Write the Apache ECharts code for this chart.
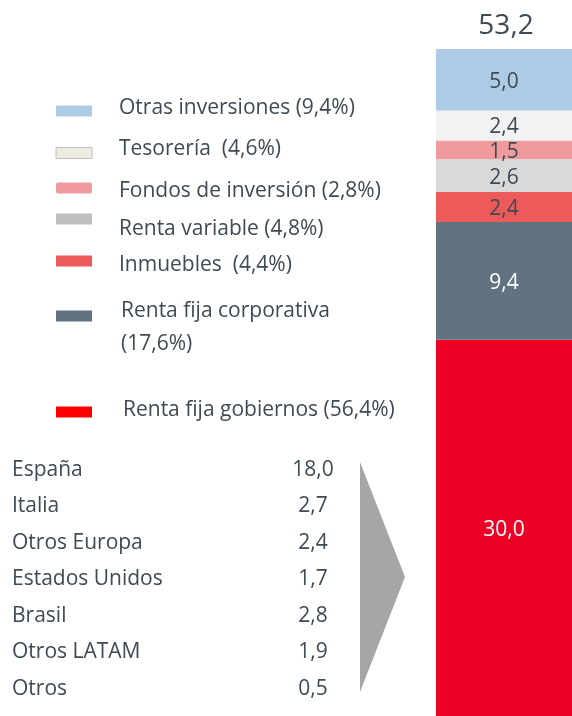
<!DOCTYPE html>
<html>
<head>
<meta charset="utf-8">
<script src="https://cdn.jsdelivr.net/npm/echarts@6/dist/echarts.min.js"></script>
<style>
  html, body { margin: 0; padding: 0; background: #fff; }
  #chart { width: 572px; height: 716px; }
</style>
</head>
<body>
<div id="chart"></div>
<script>
// segmentos de la barra, de abajo arriba
const segNames = ['Renta fija gobiernos', 'Renta fija corporativa', 'Inmuebles', 'Renta variable', 'Fondos de inversión', 'Tesorería', 'Otras inversiones']
const segValues = [30.0, 9.4, 2.4, 2.6, 1.5, 2.4, 5.0]
const segColors = ['#EE0024', '#617380', '#EE5A5A', '#D9D9D9', '#EF9B9D', '#F2F2F2', '#AECBE6']
const segLabelColors = ['#fff', '#fff', '#3F4A54', '#3F4A54', '#3F4A54', '#3F4A54', '#3F4A54']
const total = 53.2

// leyenda (de arriba abajo)
const legendText = ['Otras inversiones (9,4%)', 'Tesorería  (4,6%)', 'Fondos de inversión (2,8%)', 'Renta variable (4,8%)', 'Inmuebles  (4,4%)', 'Renta fija corporativa\n(17,6%)', 'Renta fija gobiernos (56,4%)']
const legendColors = ['#AECBE6', '#EEECE1', '#EF9B9D', '#BFBFBF', '#EE5A5A', '#617380', '#FF0000']
const legendY = [111, 153, 188, 219, 261, 316, 412]
const legendTextY = [108, 149, 191, 229, 265, 328, 410]
const legendTextX = [119, 119, 119, 119, 119, 121, 123]

// desglose de renta fija gobiernos por país
const countries = ['España', 'Italia', 'Otros Europa', 'Estados Unidos', 'Brasil', 'Otros LATAM', 'Otros']
const countryValues = [18.0, 2.7, 2.4, 1.7, 2.8, 1.9, 0.5]

const fmt = v => v.toFixed(1).replace('.', ',')
const textColor = '#3F4A54'
const font = 'Open Sans'

const chart = echarts.init(document.getElementById('chart'))

const graphics = []
legendText.forEach((t, i) => {
  graphics.push({
    type: 'rect',
    shape: { x: 56, y: legendY[i] - 5.5, width: 36, height: 11, r: i === 2 ? 2 : 0 },
    style: { fill: legendColors[i], stroke: i === 1 ? '#BFBFBF' : null, lineWidth: 1 }
  })
  graphics.push({
    type: 'text',
    x: legendTextX[i],
    y: legendTextY[i],
    style: { text: t, fill: textColor, font: '21px ' + font, textVerticalAlign: 'middle', lineHeight: 33 }
  })
})
countries.forEach((c, i) => {
  const y = 470 + i * 36.5
  graphics.push({
    type: 'text', x: 12, y: y,
    style: { text: c, fill: textColor, font: '21px ' + font, textVerticalAlign: 'middle' }
  })
  graphics.push({
    type: 'text', x: 313, y: y,
    style: { text: fmt(countryValues[i]), fill: textColor, font: '21px ' + font, textAlign: 'center', textVerticalAlign: 'middle' }
  })
})
graphics.push({
  type: 'polygon',
  shape: { points: [[360, 462], [405, 577], [360, 692]] },
  style: { fill: '#A6A6A6' }
})
graphics.push({
  type: 'text', x: 506, y: 26,
  style: { text: fmt(total), fill: textColor, font: '28px ' + font, textAlign: 'center', textVerticalAlign: 'middle' }
})

chart.setOption({
  animation: false,
  grid: { left: 436, right: 0, top: 49, bottom: 0 },
  xAxis: { type: 'category', data: ['Total'], show: false },
  yAxis: { type: 'value', min: 0, max: total, show: false },
  series: segNames.map((n, i) => ({
    name: n,
    type: 'bar',
    stack: 'total',
    barWidth: '100%',
    data: [segValues[i]],
    itemStyle: { color: segColors[i] },
    label: {
      show: true,
      position: 'inside',
      offset: [0, 2],
      formatter: p => fmt(p.value),
      color: segLabelColors[i],
      fontFamily: font,
      fontSize: 21
    }
  })),
  graphic: graphics
})
</script>
</body>
</html>
